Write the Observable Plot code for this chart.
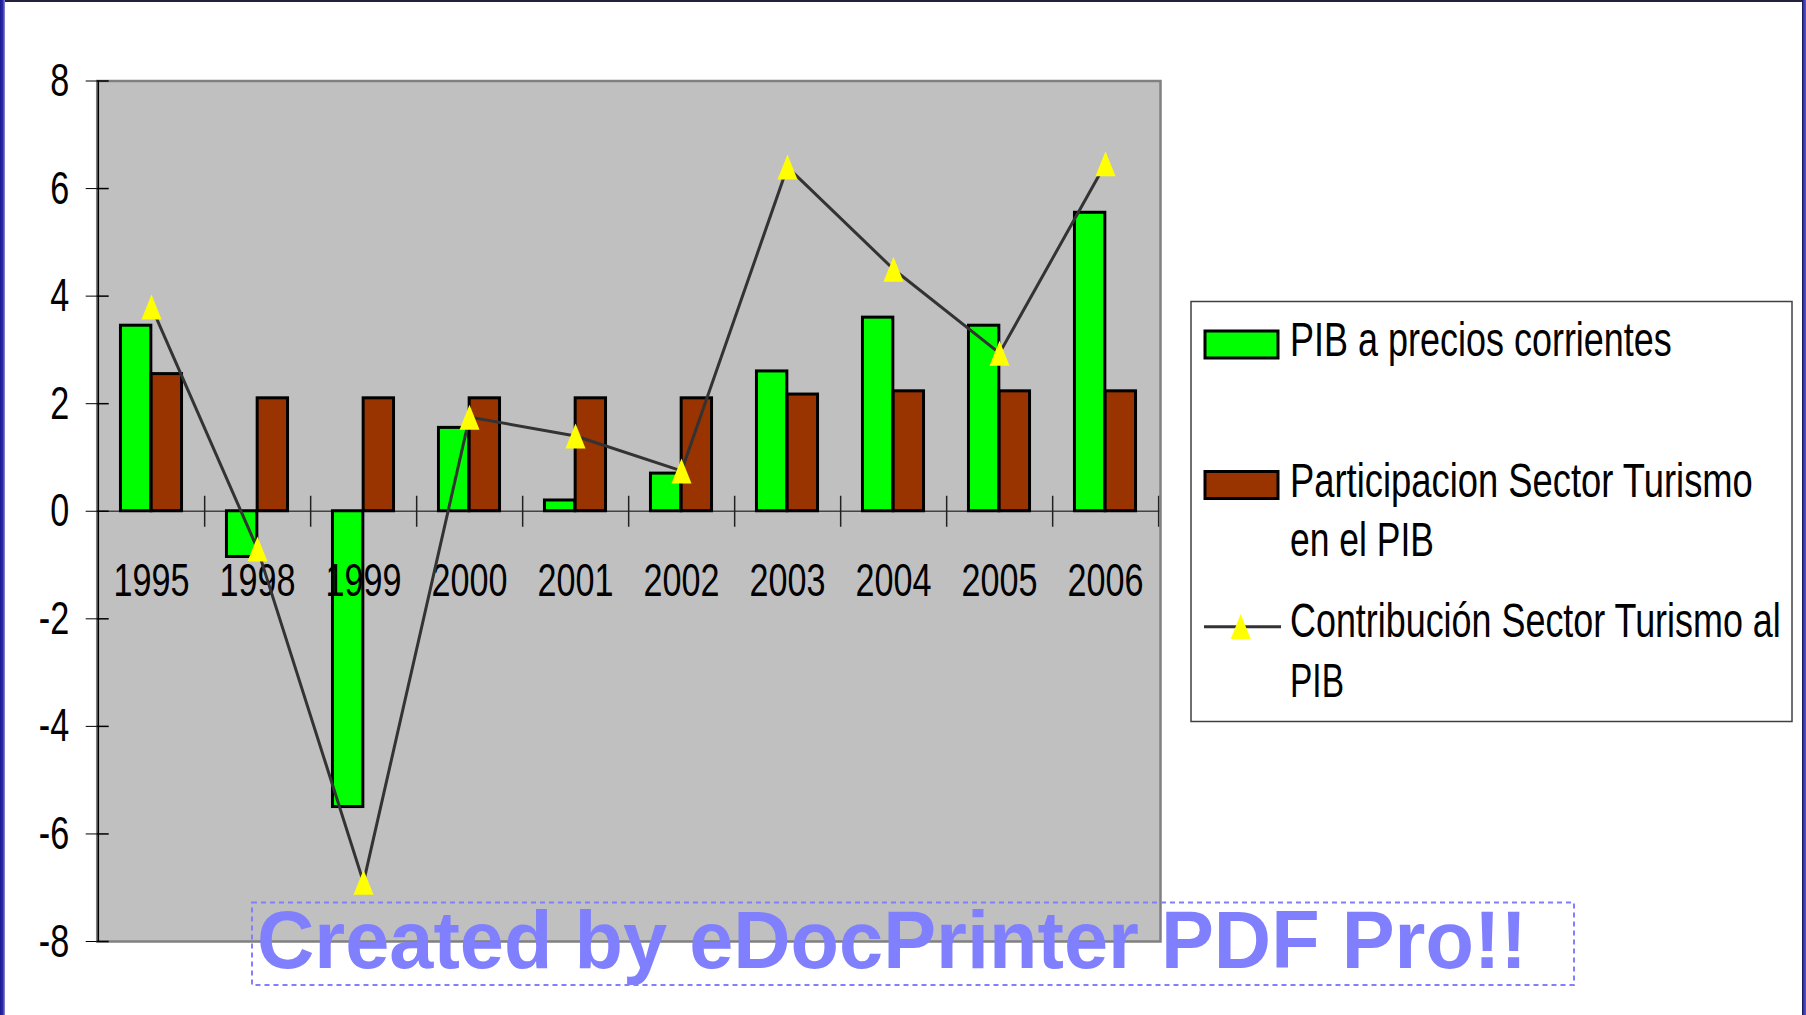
<!DOCTYPE html>
<html><head><meta charset="utf-8">
<script src="https://cdn.jsdelivr.net/npm/d3@7"></script>
<script src="https://cdn.jsdelivr.net/npm/@observablehq/plot@0.6"></script>
<style>
html,body{margin:0;padding:0;background:#fff;overflow:hidden;width:1806px;height:1015px}
#wrap{position:relative;width:1806px;height:1015px;background:#fff}
#chart{position:absolute;left:0;top:0}
#overlay{position:absolute;left:0;top:0;pointer-events:none}
.edgeL{position:absolute;left:0;top:0;width:5px;height:1015px;background:linear-gradient(to right,#1a1a8c,#2c2caa 55%,#9090d0)}
.edgeR{position:absolute;right:0;top:0;width:4px;height:1015px;background:linear-gradient(to right,#101040,#3434b0 40%,#5a5ac0)}
.edgeT{position:absolute;left:0;top:0;width:1806px;height:2px;background:#22223e}
</style></head><body>
<div id="wrap"><div id="chart"></div><svg id="overlay" width="1806" height="1015"></svg>
<div class="edgeT"></div><div class="edgeL"></div><div class="edgeR"></div></div>
<script>
// ---- data ----
const years = ["1995","1998","1999","2000","2001","2002","2003","2004","2005","2006"];
const pibCorrientes = [3.45,-0.85,-5.5,1.55,0.2,0.7,2.6,3.6,3.45,5.55];
const participacion = [2.55,2.1,2.1,2.1,2.1,2.1,2.17,2.23,2.23,2.23];
const contribucion = [3.8,-0.7,-6.9,1.75,1.4,0.75,6.4,4.5,2.94,6.46];
const yTicks = [-8,-6,-4,-2,0,2,4,6,8];
const seriesNames = ["PIB a precios corrientes", ["Participacion Sector Turismo","en el PIB"], ["Contribución Sector Turismo al","PIB"]];
const watermark = "Created by eDocPrinter PDF Pro!!";

// ---- layout ----
const W = 1806, H = 1015;
const mL = 96.7, mR = W - 1160, mT = 80.5, mB = H - 941;
const plotW = W - mL - mR;
const bw = plotW / years.length;
const barW = 30.7;
const FONT = "'Liberation Sans Narrow','Arial Narrow','Liberation Sans',Arial,sans-serif";

const dataG = years.map((y,i)=>({year:y, value:pibCorrientes[i]}));
const dataB = years.map((y,i)=>({year:y, value:participacion[i]}));
const dataC = years.map((y,i)=>({year:y, value:contribucion[i]}));

const tri = {draw(ctx){ ctx.moveTo(0,-12.5); ctx.lineTo(10,12.5); ctx.lineTo(-10,12.5); ctx.closePath(); }};

const chart = Plot.plot({
  width: W, height: H,
  marginLeft: mL, marginRight: mR, marginTop: mT, marginBottom: mB,
  x: {type: "band", domain: years, padding: 0, axis: null},
  y: {domain: [-8, 8], axis: null},
  style: {fontFamily: FONT, fontSize: "47px", color: "#000", background: "transparent"},
  marks: [
    Plot.frame({fill: "#C0C0C0"}),
    Plot.ruleY([0], {stroke: "#444", strokeWidth: 1.5}),
    Plot.ruleX(years, {x: d => d, y1: 0, y2: 0, dx: bw/2, insetTop: -15, insetBottom: -16, stroke: "#222", strokeWidth: 1.5}),
    Plot.barY(dataG, {x: "year", y: "value", fill: "#00FF00", stroke: "#000", strokeWidth: 3, insetLeft: bw/2 - barW, insetRight: bw/2}),
    Plot.barY(dataB, {x: "year", y: "value", fill: "#993300", stroke: "#000", strokeWidth: 3, insetLeft: bw/2, insetRight: bw/2 - barW}),
    Plot.text(years, {x: d => d, y: () => 0, dy: 70, text: d => d, fontSize: 47, fill: "#000"}),
    Plot.line(dataC, {x: "year", y: "value", stroke: "#333", strokeWidth: 3}),
    Plot.dot(dataC, {x: "year", y: "value", symbol: tri, r: 5, fill: "#FFFF00", stroke: "none"}),
    Plot.frame({stroke: "#808080", strokeWidth: 2.5}),
    Plot.ruleX([years[0]], {x: d => d, dx: -bw/2, stroke: "#000", strokeWidth: 1.5}),
    Plot.axisY({ticks: yTicks, tickSize: 11, tickPadding: 17, tickFormat: d => String(d), fontSize: 47, label: null}),
    Plot.tickY(yTicks, {y: d => d, insetRight: plotW - 12, stroke: "#000", strokeWidth: 1.5})
  ]
});
document.getElementById("chart").appendChild(chart);

// compress chart text to match the narrow original face
const texts = chart.querySelectorAll("text");
let ref = null;
texts.forEach(t => { if (t.textContent === "1995") ref = t; });
const k = ref ? 76 / ref.getComputedTextLength() : 1;
texts.forEach(t => {
  const w = t.getComputedTextLength();
  if (w > 0) { t.setAttribute("textLength", (w * k).toFixed(1)); t.setAttribute("lengthAdjust", "spacingAndGlyphs"); }
});

// ---- legend + watermark overlay ----
const ov = d3.select("#overlay");
const lg = ov.append("g");
lg.append("rect").attr("x", 1191).attr("y", 301.5).attr("width", 601).attr("height", 420)
  .attr("fill", "#fff").attr("stroke", "#404040").attr("stroke-width", 1.5);
lg.append("rect").attr("x", 1205).attr("y", 331).attr("width", 73).attr("height", 27)
  .attr("fill", "#00FF00").attr("stroke", "#000").attr("stroke-width", 3);
lg.append("rect").attr("x", 1205).attr("y", 471.5).attr("width", 73).attr("height", 27)
  .attr("fill", "#993300").attr("stroke", "#000").attr("stroke-width", 3);
lg.append("line").attr("x1", 1204).attr("x2", 1281).attr("y1", 626.7).attr("y2", 626.7)
  .attr("stroke", "#333").attr("stroke-width", 3);
lg.append("path").attr("transform", "translate(1240.7,626.5)").attr("d", "M0,-12.5L10,12.5L-10,12.5Z").attr("fill", "#FFFF00");
const legendLines = [
  {t: seriesNames[0], y: 356, w: 382},
  {t: seriesNames[1][0], y: 496.7, w: 463},
  {t: seriesNames[1][1], y: 556, w: 144},
  {t: seriesNames[2][0], y: 636.7, w: 491},
  {t: seriesNames[2][1], y: 696.7, w: 54}
];
legendLines.forEach(l => {
  const t = lg.append("text").attr("x", 0).attr("y", 0).text(l.t)
    .attr("font-family", FONT).attr("font-size", 49).attr("fill", "#000");
  const nat = t.node().getComputedTextLength();
  t.attr("transform", `translate(1290,${l.y}) scale(${(l.w / nat).toFixed(4)},1)`);
});
const wm = ov.append("g");
wm.append("rect").attr("x", 252).attr("y", 902.5).attr("width", 1322).attr("height", 82.5)
  .attr("fill", "none").attr("stroke", "#8080FF").attr("stroke-width", 2).attr("stroke-dasharray", "5,4");
const wt = wm.append("text").attr("x", 0).attr("y", 0).text(watermark)
  .attr("font-family", "'Liberation Sans',Arial,sans-serif").attr("font-weight", "bold").attr("font-size", 81)
  .attr("fill", "#8080FF");
const wnat = wt.node().getComputedTextLength();
wt.attr("transform", `translate(257,968) scale(${(1270 / wnat).toFixed(4)},1)`);
</script>
</body></html>
